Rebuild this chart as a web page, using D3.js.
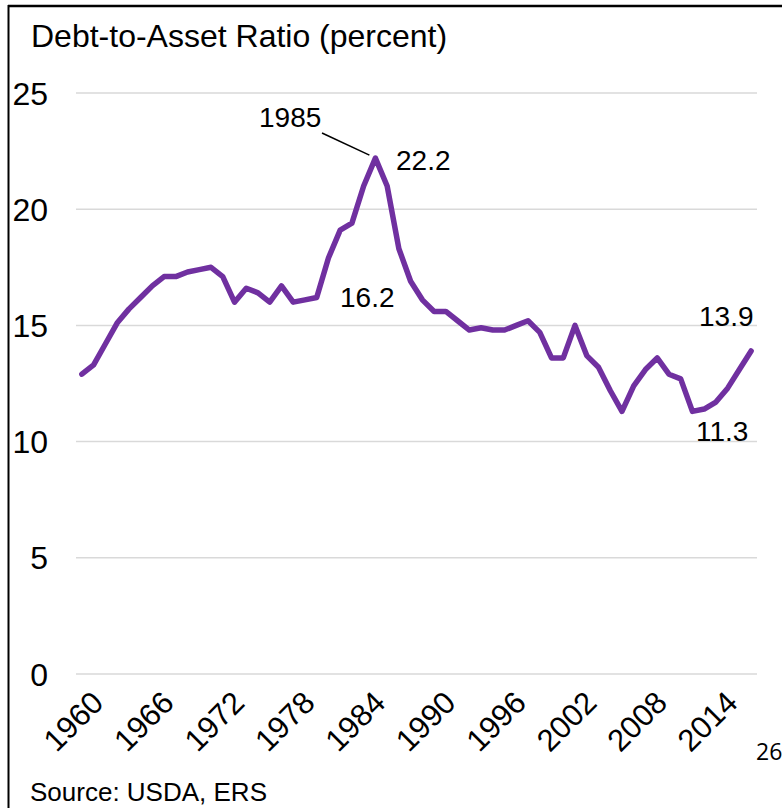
<!DOCTYPE html>
<html>
<head>
<meta charset="utf-8">
<script src="https://cdn.jsdelivr.net/npm/d3@7"></script>
<style>
  body { margin: 0; background: white; }
  text { font-family: "Liberation Sans", Arial, sans-serif; fill: #000; }
</style>
</head>
<body>
<svg id="chart" width="782" height="808"></svg>
<script>
// data
var years = d3.range(1960, 2018);
var ratio = [12.9, 13.3, 14.2, 15.1, 15.7, 16.2, 16.7, 17.1, 17.1, 17.3,
             17.4, 17.5, 17.1, 16.0, 16.6, 16.4, 16.0, 16.7, 16.0, 16.1,
             16.2, 17.9, 19.1, 19.4, 21.0, 22.2, 21.0, 18.3, 16.9, 16.1,
             15.6, 15.6, 15.2, 14.8, 14.9, 14.8, 14.8, 15.0, 15.2, 14.7,
             13.6, 13.6, 15.0, 13.7, 13.2, 12.2, 11.3, 12.4, 13.1, 13.6,
             12.9, 12.7, 11.3, 11.4, 11.7, 12.3, 13.1, 13.9];
var y_ticks = [0, 5, 10, 15, 20, 25];
var x_tick_years = [1960, 1966, 1972, 1978, 1984, 1990, 1996, 2002, 2008, 2014];
// callouts: [year, value, label]
var callouts = [[1985, 22.2, "22.2"], [1980, 16.2, "16.2"], [2017, 13.9, "13.9"], [2012, 11.3, "11.3"]];

var svg = d3.select("#chart");

// frame
svg.append("line").attr("x1", 8.5).attr("x2", 8.5).attr("y1", 5).attr("y2", 808)
  .attr("stroke", "#000").attr("stroke-width", 2);
svg.append("line").attr("x1", 8).attr("x2", 782).attr("y1", 6).attr("y2", 6)
  .attr("stroke", "#000").attr("stroke-width", 2.5);

var x = d3.scaleBand().domain(years).range([76, 757]);
var y = d3.scaleLinear().domain([0, 25]).range([674, 93]);
var cx = function(yr) { return x(yr) + x.bandwidth() / 2; };

// gridlines
svg.append("g").selectAll("line").data(y_ticks).enter().append("line")
  .attr("x1", 76).attr("x2", 757)
  .attr("y1", function(d) { return y(d); }).attr("y2", function(d) { return y(d); })
  .attr("stroke", "#d9d9d9").attr("stroke-width", 1.5);

// y labels
svg.append("g").selectAll("text").data(y_ticks).enter().append("text")
  .attr("x", 48).attr("y", function(d) { return y(d); })
  .attr("dy", "0.36em")
  .attr("text-anchor", "end")
  .style("font-size", "32px")
  .text(function(d) { return d; });

// x labels, rotated
svg.append("g").selectAll("text").data(x_tick_years).enter().append("text")
  .attr("transform", function(d) { return "translate(" + (cx(d) + 7) + ",688) rotate(-45)"; })
  .attr("text-anchor", "end")
  .attr("dy", "0.75em")
  .style("font-size", "31px")
  .text(function(d) { return d; });

// the line
var line = d3.line()
  .x(function(d, i) { return cx(years[i]); })
  .y(function(d) { return y(d); });
svg.append("path").datum(ratio)
  .attr("d", line)
  .attr("fill", "none")
  .attr("stroke", "#7030a0")
  .attr("stroke-width", 5.5)
  .attr("stroke-linejoin", "round")
  .attr("stroke-linecap", "round");

// title
svg.append("text").attr("x", 31).attr("y", 47)
  .style("font-size", "32px")
  .text("Debt-to-Asset Ratio (percent)");

// 1985 callout with leader
svg.append("text").attr("x", 259).attr("y", 127)
  .style("font-size", "28px").text("1985");
svg.append("line")
  .attr("x1", 322).attr("y1", 133)
  .attr("x2", cx(1985) - 6).attr("y2", y(22.2) - 3)
  .attr("stroke", "#000").attr("stroke-width", 1.5);

// value labels
var label_pos = { "22.2": [396, 170], "16.2": [340, 307], "13.9": [699, 326], "11.3": [696, 441] };
svg.append("g").selectAll("text").data(callouts).enter().append("text")
  .attr("x", function(d) { return label_pos[d[2]][0]; })
  .attr("y", function(d) { return label_pos[d[2]][1]; })
  .style("font-size", "28px")
  .text(function(d) { return d[2]; });

// source and page number
svg.append("text").attr("x", 30).attr("y", 801)
  .style("font-size", "26px").text("Source: USDA, ERS");
svg.append("text").attr("x", 756).attr("y", 760)
  .style("font-family", "'Open Sans', sans-serif")
  .style("font-size", "23px").text("26");
</script>
</body>
</html>
